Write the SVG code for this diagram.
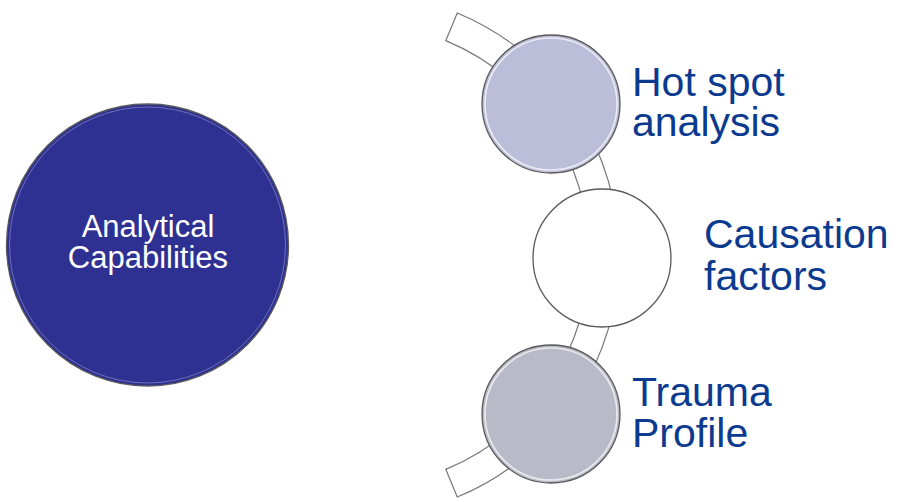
<svg xmlns="http://www.w3.org/2000/svg" width="901" height="502" viewBox="0 0 901 502">
<style>
.ring{stroke:#5a5a5a;stroke-width:1.3}
.hi{fill:none;stroke:#ffffff;stroke-width:1.6;opacity:0.7}
.lbl{font-family:"Liberation Sans",Arial,sans-serif;font-size:41px;fill:#0B3A8E}
.main{font-family:"Liberation Sans",Arial,sans-serif;font-size:31px;fill:#ffffff;text-anchor:middle}
</style>
<rect width="901" height="502" fill="#ffffff"/>
<g id="connectors">
<path d="M 457.26 12.94 A 262 262 0 0 1 457.26 497.06 L 445.78 469.34 A 232 232 0 0 0 445.78 40.66 Z" fill="#ffffff" stroke="#777777" stroke-width="1.2"/>
</g>
<g id="node-analytical">
<circle cx="147.5" cy="245" r="141" fill="#2E3192" class="ring"/>
<circle cx="147.5" cy="245" r="138" fill="none" stroke="#ffffff" stroke-width="1" opacity="0.3"/>
<text class="main" x="148" y="237">Analytical</text>
<text class="main" x="148" y="268">Capabilities</text>
</g>
<g id="node-hotspot">
<circle cx="551" cy="104" r="69" fill="#BCBDD9" class="ring"/>
<circle cx="551" cy="104" r="66" class="hi"/>
<text class="lbl" x="632" y="96">Hot spot</text>
<text class="lbl" x="632" y="136">analysis</text>
</g>
<g id="node-causation">
<circle cx="602" cy="258" r="69" fill="#ffffff" class="ring"/>
<text class="lbl" x="704" y="248">Causation</text>
<text class="lbl" x="704" y="290">factors</text>
</g>
<g id="node-trauma">
<circle cx="551" cy="414" r="69" fill="#B9BAC7" class="ring"/>
<circle cx="551" cy="414" r="66" class="hi"/>
<text class="lbl" x="632" y="406">Trauma</text>
<text class="lbl" x="632" y="447">Profile</text>
</g>
</svg>
